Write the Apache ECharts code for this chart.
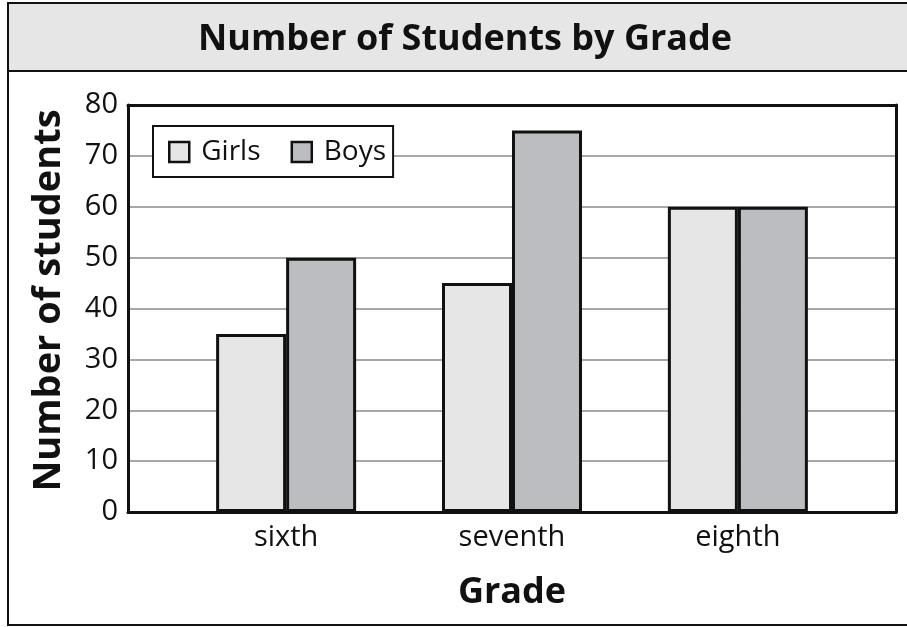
<!DOCTYPE html>
<html>
<head>
<meta charset="utf-8">
<script src="https://cdn.jsdelivr.net/npm/echarts@6/dist/echarts.min.js"></script>
<style>
  html, body { margin: 0; padding: 0; background: #fff; }
  #chart { width: 907px; height: 627px; }
</style>
</head>
<body>
<div id="chart"></div>
<script>
const grades = ['sixth', 'seventh', 'eighth'];
const girls = [35, 45, 60];
const boys = [50, 75, 60];
const yTicks = [0, 10, 20, 30, 40, 50, 60, 70, 80];

const font = '"Open Sans", "Noto Sans", sans-serif';
const ink = '#111';
const frameLine = { show: true, onZero: false, lineStyle: { color: ink, width: 3 } };
const chart = echarts.init(document.getElementById('chart'));

const option = {
  animation: false,
  textStyle: { fontFamily: font },
  title: {
    text: 'Number of Students by Grade',
    left: 198,
    top: 22,
    padding: 0,
    textStyle: { fontFamily: font, fontSize: 36, fontWeight: 'bold', color: ink }
  },
  graphic: [
    {
      type: 'rect', z: -10,
      shape: { x: 8, y: 3, width: 950, height: 68 },
      style: { fill: '#e6e6e6', stroke: ink, lineWidth: 2 }
    },
    {
      type: 'rect', z: -10,
      shape: { x: 8, y: 3, width: 950, height: 622 },
      style: { fill: 'none', stroke: ink, lineWidth: 2 }
    }
  ],
  legend: {
    left: 153,
    top: 126,
    orient: 'horizontal',
    padding: [12, 7, 11, 15],
    itemGap: 30,
    itemWidth: 20,
    itemHeight: 20,
    icon: 'rect',
    borderColor: ink,
    borderWidth: 2,
    backgroundColor: '#fff',
    itemStyle: { borderColor: ink, borderWidth: 2.5 },
    textStyle: { fontFamily: font, fontSize: 28, color: ink, padding: [0, 0, 0, 7] },
    data: ['Girls', 'Boys']
  },
  grid: {
    left: 128,
    right: 11,
    top: 105,
    bottom: 115
  },
  xAxis: [
    {
      type: 'value',
      position: 'bottom',
      min: -0.7,
      max: 2.7,
      name: 'Grade',
      nameLocation: 'middle',
      nameGap: 63,
      nameTextStyle: { fontFamily: font, fontSize: 36, fontWeight: 'bold', color: ink },
      splitLine: { show: false },
      axisLine: frameLine,
      axisTick: { show: false },
      axisLabel: {
        customValues: [0, 1, 2],
        formatter: v => grades[v],
        fontFamily: font,
        fontSize: 29,
        color: ink,
        margin: 11
      }
    },
    {
      type: 'value',
      position: 'top',
      min: -0.7,
      max: 2.7,
      splitLine: { show: false },
      axisLine: frameLine,
      axisTick: { show: false },
      axisLabel: { show: false }
    }
  ],
  yAxis: [
    {
      type: 'value',
      position: 'left',
      min: 0,
      max: 80,
      interval: 10,
      name: 'Number of students',
      nameLocation: 'middle',
      nameRotate: 90,
      nameGap: 60,
      nameTextStyle: {
        fontFamily: font, fontSize: 38, fontWeight: 'bold', color: ink,
        padding: [0, 0, 0, 16]
      },
      axisLine: frameLine,
      axisTick: { show: false },
      axisLabel: {
        formatter: v => (yTicks.includes(v) ? String(v) : ''),
        fontFamily: font,
        fontSize: 29,
        color: ink,
        margin: 10
      },
      splitLine: { show: true, lineStyle: { color: '#a8a8a8', width: 2 } }
    },
    {
      type: 'value',
      position: 'right',
      min: 0,
      max: 80,
      interval: 10,
      axisLine: frameLine,
      axisTick: { show: false },
      axisLabel: { show: false },
      splitLine: { show: false }
    }
  ],
  series: [
    {
      name: 'Girls',
      type: 'bar',
      barWidth: 70,
      barGap: '0%',
      data: grades.map((g, i) => [i, girls[i]]),
      itemStyle: { color: '#e6e6e6', borderColor: ink, borderWidth: 3 }
    },
    {
      name: 'Boys',
      type: 'bar',
      barWidth: 70,
      barGap: '0%',
      data: grades.map((g, i) => [i, boys[i]]),
      itemStyle: { color: '#bcbdc0', borderColor: ink, borderWidth: 3 }
    }
  ]
};

chart.setOption(option);
window.addEventListener('resize', () => chart.resize());
</script>
</body>
</html>
